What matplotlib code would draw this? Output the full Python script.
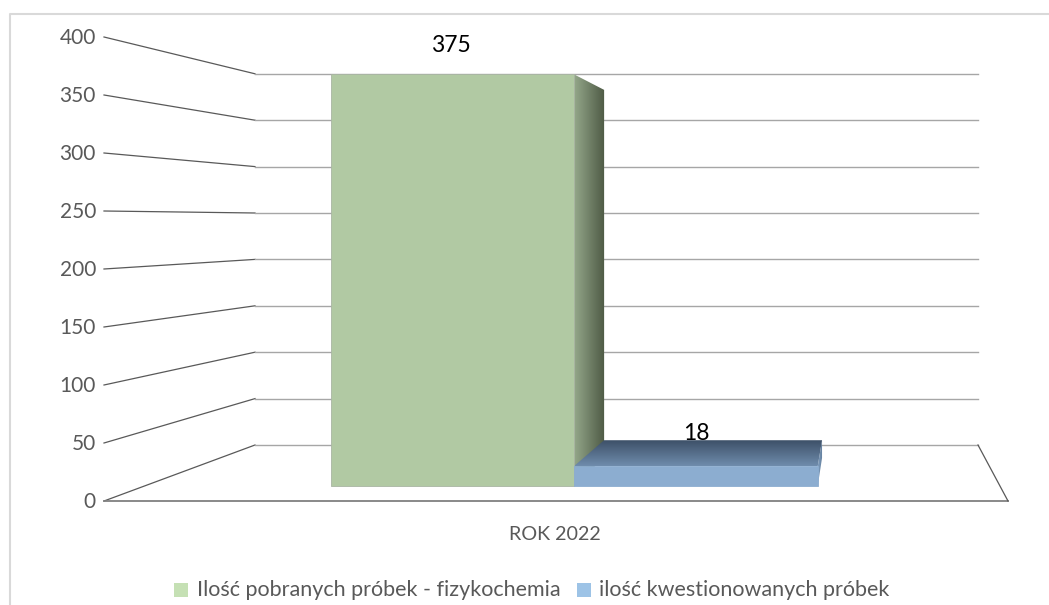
"""
Recreation of the 3D column chart, ROK 2022 samples
"""

import numpy as np
from matplotlib import pyplot as plt
from matplotlib.patches import Polygon, Rectangle


# data
CATEGORY = 'ROK 2022'
SERIES_NAMES = ['Ilość pobranych próbek - fizykochemia', 'ilość kwestionowanych próbek']
SERIES_VALUES = [375, 18]
TICKS = [0, 50, 100, 150, 200, 250, 300, 350, 400]

# colours
CLR_FACES = ['#b1c9a3', '#8cadd0']
CLR_EDGES = ['#a9b5a3', '#8cadd0']
CLR_LEGEND = ['#c5e0b4', '#9dc3e6']
CLR_SIDE = [('#94a78a', '#4e5a45'), ('#7f9dbd', '#5f7a99')]
CLR_TOP = ['#b1c9a3', ('#3d5068', '#6f8cac')]
CLR_GRID = '#a6a6a6'
CLR_WALL = '#595959'
CLR_TEXT = '#595959'

plt.rcParams['font.family'] = ['Lato', 'DejaVu Sans']

# perspective box of the chart, in pixels
FLOOR_FRONT = (104, 1008, 501)
FLOOR_BACK = (255, 978, 445)
PX_FRONT = 1.16
PX_BACK = 0.928
BAR_T = (0.27, 0.77)
BAR_EDGES = [0.2175, 0.502, 0.787]


def project(frac, value, t):
    """Map box position (0-1 across, value up, 0-1 deep) to pixels"""
    left = FLOOR_FRONT[0] + t * (FLOOR_BACK[0] - FLOOR_FRONT[0])
    right = FLOOR_FRONT[1] + t * (FLOOR_BACK[1] - FLOOR_FRONT[1])
    base = FLOOR_FRONT[2] + t * (FLOOR_BACK[2] - FLOOR_FRONT[2])
    scale = PX_FRONT + t * (PX_BACK - PX_FRONT)
    return left + frac * (right - left), base - value * scale


def gradient_poly(ax, pts, clr_a, clr_b, horizontal, zorder):
    """Fill a polygon with a two colour linear gradient"""
    pts = np.array(pts)
    a = np.array(plt.matplotlib.colors.to_rgb(clr_a))
    b = np.array(plt.matplotlib.colors.to_rgb(clr_b))
    steps = np.linspace(0, 1, 64)[:, None]
    img = (a + (b - a) * steps)[None, :, :] if horizontal else (a + (b - a) * steps)[:, None, :]
    ext = (pts[:, 0].min(), pts[:, 0].max(), pts[:, 1].max(), pts[:, 1].min())
    im = ax.imshow(img, extent=ext, origin='upper', aspect='auto', zorder=zorder,
                   interpolation='bilinear')
    clip = Polygon(pts, closed=True, transform=ax.transData, fc='none', ec='none')
    ax.add_patch(clip)
    im.set_clip_path(clip)


fig = plt.figure(figsize=(10.49, 6.05), dpi=100)
ax = fig.add_axes([0, 0, 1, 1])

# chart frame, only the top and left edges fall inside the picture
ax.plot([10, 10, 1049], [605, 14, 14], color='#d9d9d9', lw=1.5, zorder=0)

# back wall grid and side wall lines
for tick in TICKS:
    x0, y0 = project(0, tick, 0)
    x1, y1 = project(0, tick, 1)
    x2, y2 = project(1, tick, 1)
    ax.plot([x0, x1], [y0, y1], color=CLR_WALL, lw=0.9, zorder=1)
    ax.plot([x1, x2], [y1, y2], color=CLR_GRID, lw=1.0, zorder=1)
    ax.text(x0 - 8, y0 + 1, str(tick), ha='right', va='center', fontsize=15, color=CLR_TEXT)

# floor
ax.plot([project(0, 0, 0)[0], project(1, 0, 0)[0]], [FLOOR_FRONT[2]] * 2, color='#808080', lw=1.3, zorder=1)
ax.plot(*zip(project(1, 0, 1), project(1, 0, 0)), color=CLR_WALL, lw=0.9, zorder=1)

# columns
for i, value in enumerate(SERIES_VALUES):
    lo, hi = BAR_EDGES[i], BAR_EDGES[i + 1]
    t0, t1 = BAR_T
    side = [project(hi, value, t0), project(hi, value, t1), project(hi, 0, t1), project(hi, 0, t0)]
    top = [project(lo, value, t0), project(hi, value, t0), project(hi, value, t1), project(lo, value, t1)]
    gradient_poly(ax, side, CLR_SIDE[i][0], CLR_SIDE[i][1], True, 3)
    if isinstance(CLR_TOP[i], tuple):
        gradient_poly(ax, top, CLR_TOP[i][0], CLR_TOP[i][1], False, 3)
    x0, y0 = project(lo, 0, t0)
    x1, y1 = project(hi, value, t0)
    ax.add_patch(Rectangle((x0, y1), x1 - x0, y0 - y1, fc=CLR_FACES[i], ec=CLR_EDGES[i], lw=0.6, zorder=4))

# data labels
ax.text(451, 46, str(SERIES_VALUES[0]), ha='center', va='center', fontsize=16.5, color='black', zorder=6)
ax.text(696, 434, str(SERIES_VALUES[1]), ha='center', va='center', fontsize=16.5, color='black', zorder=6)

# category label
ax.text(555, 535, CATEGORY, ha='center', va='center', fontsize=14.2, color=CLR_TEXT)

# legend
ax.add_patch(Rectangle((174, 583), 14, 14, fc=CLR_LEGEND[0], ec='none'))
ax.text(197, 590, SERIES_NAMES[0], ha='left', va='center', fontsize=15.5, color=CLR_TEXT)
ax.add_patch(Rectangle((577, 583), 14, 14, fc=CLR_LEGEND[1], ec='none'))
ax.text(599, 590, SERIES_NAMES[1], ha='left', va='center', fontsize=15.5, color=CLR_TEXT)

ax.set_xlim(0, 1049)
ax.set_ylim(605, 0)
ax.axis('off')

fig.savefig('out.png', dpi=100)
